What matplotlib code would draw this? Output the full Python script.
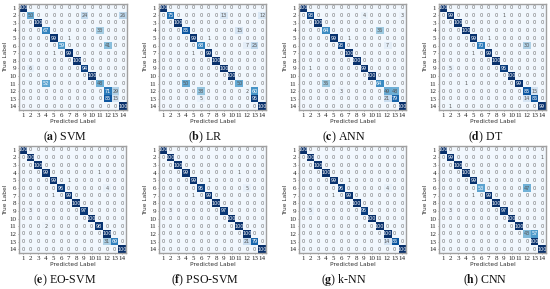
import numpy as np
import matplotlib
matplotlib.use("Agg")
import matplotlib.pyplot as plt

labels = list(range(1, 15))
letters = ["a", "b", "c", "d", "e", "f", "g", "h"]
names = ["SVM", "LR", "ANN", "DT", "EO-SVM", "PSO-SVM", "k-NN", "CNN"]

diag_a = [100, 50, 100, 67, 99, 59, 99, 100, 94, 100, 48, 71, 15, 100]
off_a = [(2, 9, 24), (2, 14, 26), (4, 11, 33), (5, 7, 1), (6, 12, 41), (7, 5, 1), (9, 2, 6), (11, 4, 52), (12, 13, 29), (13, 12, 85)]
diag_b = [100, 75, 100, 85, 99, 68, 99, 100, 100, 100, 50, 2, 0, 100]
off_b = [(2, 9, 13), (2, 14, 12), (4, 11, 15), (5, 7, 1), (6, 12, 7), (6, 13, 25), (7, 5, 1), (11, 4, 50), (12, 6, 38), (12, 13, 60), (13, 6, 5), (13, 13, 95)]
diag_c = [100, 93, 100, 64, 99, 93, 100, 100, 99, 100, 64, 49, 79, 100]
off_c = [(2, 9, 4), (2, 14, 3), (4, 11, 36), (5, 7, 1), (6, 12, 7), (9, 2, 1), (11, 4, 36), (12, 6, 3), (12, 13, 48), (13, 12, 21)]
diag_d = [100, 99, 100, 100, 99, 70, 99, 100, 95, 100, 99, 85, 86, 99]
off_d = [(2, 9, 1), (5, 7, 1), (6, 12, 30), (7, 5, 1), (9, 2, 5), (11, 4, 1), (12, 13, 15), (13, 12, 14), (14, 2, 1)]
diag_e = [100, 100, 100, 99, 99, 96, 99, 100, 97, 100, 98, 100, 69, 100]
off_e = [(4, 11, 1), (5, 7, 1), (6, 12, 4), (7, 5, 1), (9, 2, 3), (11, 4, 2), (13, 12, 31)]
diag_f = [100, 100, 100, 99, 99, 95, 99, 100, 97, 100, 100, 100, 79, 100]
off_f = [(4, 11, 1), (5, 7, 1), (6, 12, 5), (7, 5, 1), (9, 2, 3), (13, 12, 21)]
diag_g = [100, 100, 100, 100, 99, 96, 99, 100, 95, 100, 100, 100, 86, 100]
off_g = [(5, 7, 1), (6, 12, 4), (7, 5, 1), (9, 2, 5), (13, 12, 14)]
diag_h = [100, 99, 100, 100, 99, 53, 99, 100, 97, 100, 100, 43, 100, 100]
off_h = [(2, 14, 1), (5, 7, 1), (6, 12, 47), (7, 5, 1), (9, 2, 3), (12, 13, 57)]

diags = [diag_a, diag_b, diag_c, diag_d, diag_e, diag_f, diag_g, diag_h]
offs = [off_a, off_b, off_c, off_d, off_e, off_f, off_g, off_h]

# axes boxes in pixels: left, top, right, bottom
boxes = [(19, 4, 127, 110), (159, 4, 266, 110), (299, 4, 406, 110), (439, 4, 546, 110),
         (19, 146, 126, 253), (159, 146, 266, 253), (299, 146, 406, 253), (439, 146, 546, 253)]
cap_x = [65, 205, 344, 486, 65, 205, 344, 485]
cap_y = [137, 137, 137, 137, 280, 280, 280, 280]

W, H = 550, 289
fig = plt.figure(figsize=(W / 100, H / 100), dpi=100, facecolor="white")
SERIF = "Liberation Serif"

for i in range(8):
    m = np.zeros((14, 14), dtype=int)
    for k, v in enumerate(diags[i]):
        m[k, k] = v
    for r, c, v in offs[i]:
        m[r - 1, c - 1] = v
    l, t, r_, b = boxes[i]
    ax = fig.add_axes([l / W, 1 - b / H, (r_ - l) / W, (b - t) / H])
    ax.imshow(m, cmap="Blues", vmin=-3, vmax=100, aspect="auto", interpolation="nearest")
    for rr in range(14):
        for cc in range(14):
            v = m[rr, cc]
            col = "white" if v > 50 else ("#666666" if v == 0 else "#555555")
            ax.text(cc, rr, str(v), ha="center", va="center", fontsize=3.5, color=col)
    ax.set_xticks(range(14))
    ax.set_yticks(range(14))
    ax.set_xticklabels(labels, fontsize=5.0, family=SERIF, color="#222222")
    ax.set_yticklabels(labels, fontsize=5.0, family=SERIF, color="#222222")
    ax.tick_params(length=1, width=0.4, pad=1.0, color="#555555")
    ax.set_xlabel("Predicted Label", fontsize=4.2, labelpad=0.8, color="#333333")
    ax.set_ylabel("True Label", fontsize=4.2, labelpad=0.6, color="#333333")
    for s in ax.spines.values():
        s.set_color("#a0a0a0")
        s.set_linewidth(1.0)
    fig.text(cap_x[i] / W, 1 - cap_y[i] / H, "($\\mathbf{" + letters[i] + "}$) " + names[i],
             ha="center", va="center", fontsize=8.6, family=SERIF, color="#111111", math_fontfamily="stix")

fig.savefig("out.png", dpi=100, facecolor="white")
